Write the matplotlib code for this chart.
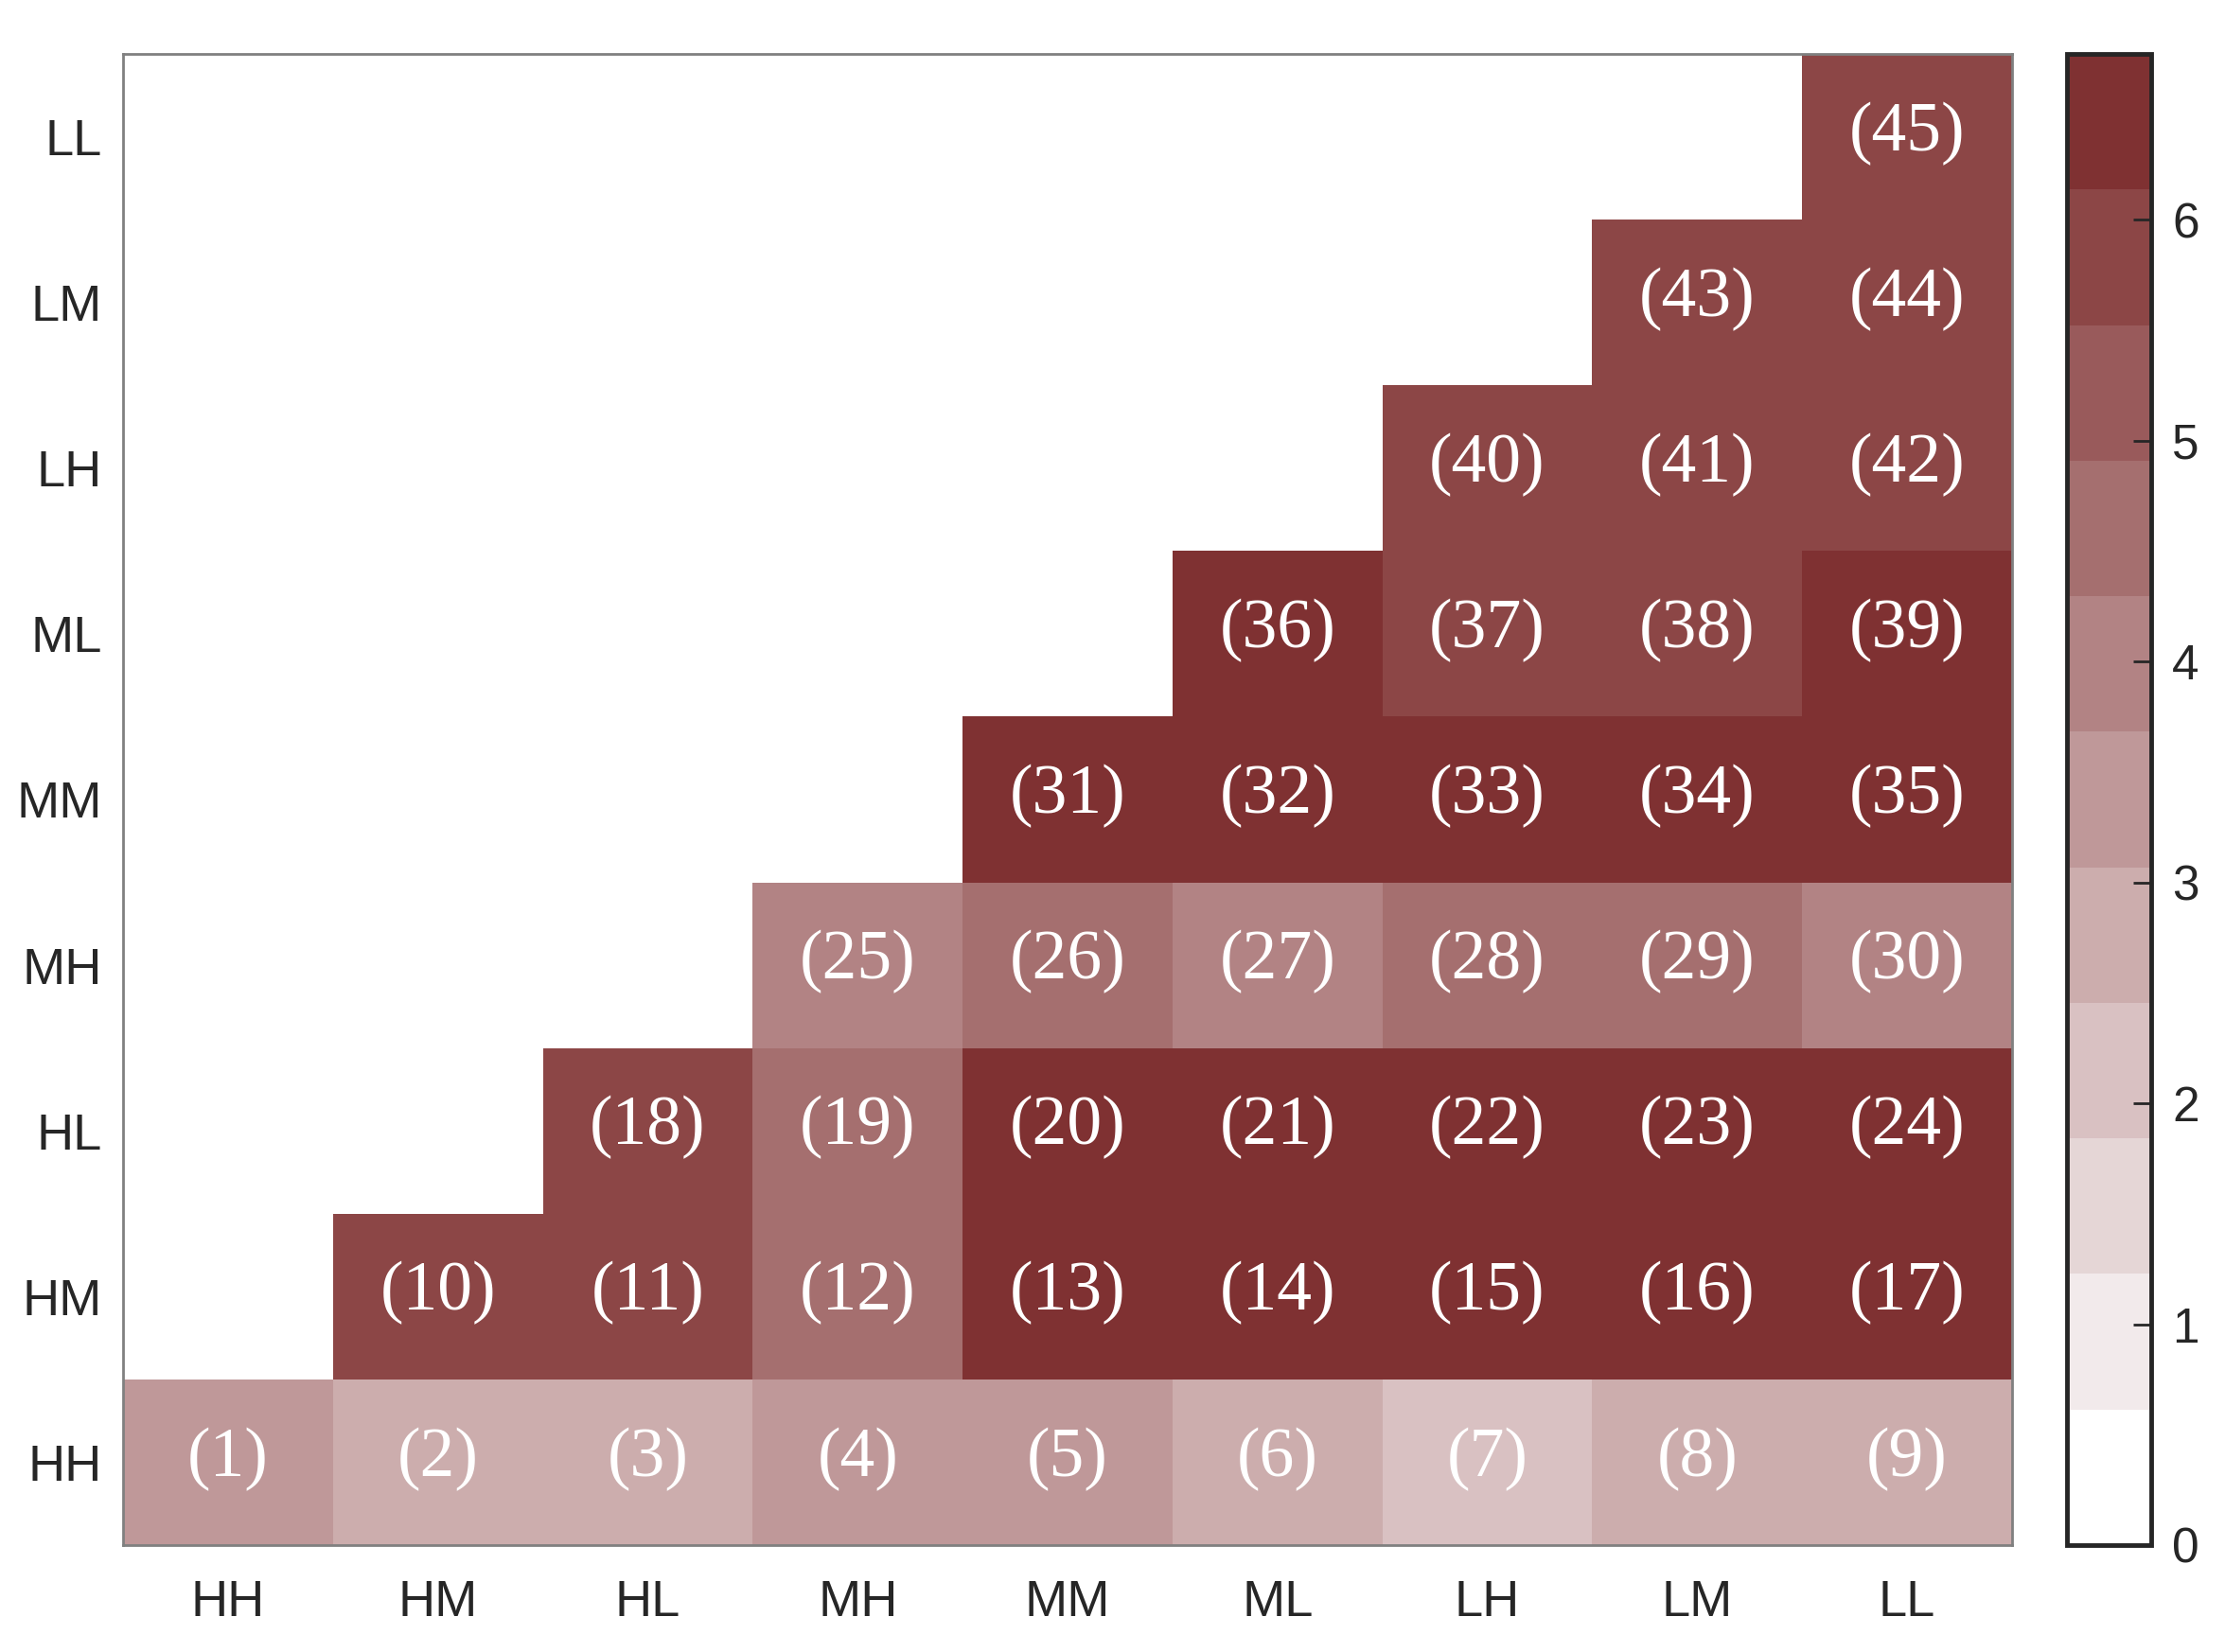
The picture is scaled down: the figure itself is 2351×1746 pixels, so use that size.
import numpy as np
import matplotlib
matplotlib.use('Agg')
import matplotlib.pyplot as plt
from matplotlib.colors import LinearSegmentedColormap, Normalize

labels = ['HH', 'HM', 'HL', 'MH', 'MM', 'ML', 'LH', 'LM', 'LL']
nan = np.nan

# rows from bottom (HH) to top (LL), columns HH..LL
row_HH = [3.4, 2.8, 2.8, 3.4, 3.4, 2.8, 2.2, 2.8, 2.8]
row_HM = [nan, 5.8, 5.8, 4.6, 6.5, 6.5, 6.5, 6.5, 6.5]
row_HL = [nan, nan, 5.8, 4.6, 6.5, 6.5, 6.5, 6.5, 6.5]
row_MH = [nan, nan, nan, 4.0, 4.6, 4.0, 4.6, 4.6, 4.0]
row_MM = [nan, nan, nan, nan, 6.5, 6.5, 6.5, 6.5, 6.5]
row_ML = [nan, nan, nan, nan, nan, 6.5, 5.8, 5.8, 6.5]
row_LH = [nan, nan, nan, nan, nan, nan, 5.8, 5.8, 5.8]
row_LM = [nan, nan, nan, nan, nan, nan, nan, 5.8, 5.8]
row_LL = [nan, nan, nan, nan, nan, nan, nan, nan, 5.8]

vmax = 6.75
cbar_ticks = [0, 1, 2, 3, 4, 5, 6]

Z = np.array([row_HH, row_HM, row_HL, row_MH, row_MM, row_ML, row_LH, row_LM, row_LL])
Zm = np.ma.masked_invalid(Z)

cmap = LinearSegmentedColormap.from_list('reds', ['#ffffff', '#7f3132'], N=11)
norm = Normalize(0, vmax)

fig = plt.figure(figsize=(23.51, 17.46), dpi=100)
ax = fig.add_axes([130/2351, 1 - 1633/1746, (2126-130)/2351, (1633-57)/1746])
cax = fig.add_axes([2184/2351, 1 - 1633/1746, (2273-2184)/2351, (1633-57)/1746])

mesh = ax.pcolormesh(np.arange(10), np.arange(10), Zm, cmap=cmap, norm=norm)
ax.set_xlim(0, 9)
ax.set_ylim(0, 9)

# cell numbers (1)..(45)
k = 1
for i in range(9):
    for j in range(9):
        if not np.isnan(Z[i, j]):
            ax.text(j + 0.5, i + 0.52, '(%d)' % k, ha='center', va='center',
                    color='white', fontsize=53, family='Liberation Serif')
            k += 1

ax.set_xticks(np.arange(9) + 0.5)
ax.set_yticks(np.arange(9) + 0.5)
ax.set_xticklabels(labels, family='Liberation Sans', fontsize=39, color='#262626')
ax.set_yticklabels(labels, family='Liberation Sans', fontsize=39, color='#262626')
ax.tick_params(axis='x', length=0, pad=26)
ax.tick_params(axis='y', length=0, pad=16)
for s in ax.spines.values():
    s.set_color('#808080')
    s.set_linewidth(2)

cb = fig.colorbar(mesh, cax=cax, ticks=cbar_ticks)
cb.outline.set_linewidth(3.5)
cb.outline.set_edgecolor('#262626')
cax.tick_params(axis='y', direction='in', length=14, width=2, color='#262626',
                labelsize=37, labelcolor='#262626', pad=16)
for t in cax.get_yticklabels():
    t.set_family('Liberation Sans')

fig.savefig('out.png', dpi=100)
